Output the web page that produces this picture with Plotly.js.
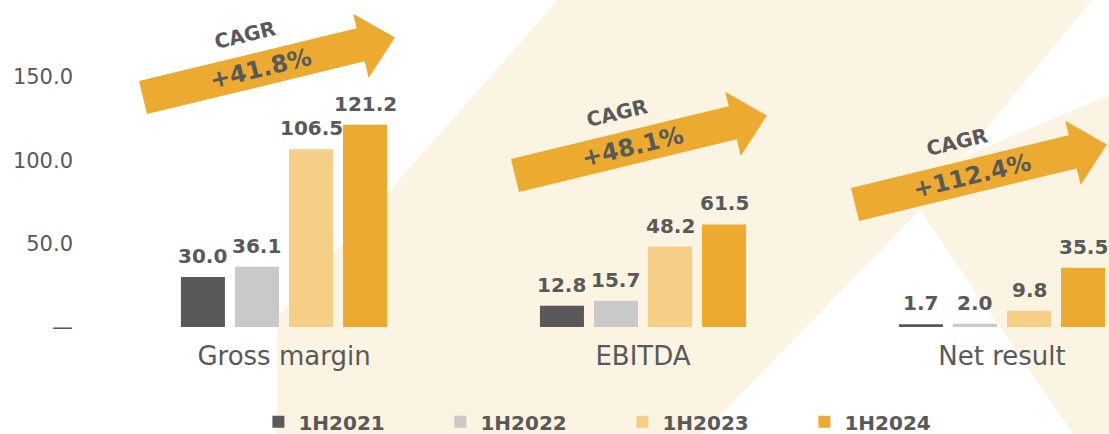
<!DOCTYPE html>
<html>
<head>
<meta charset="utf-8">
<script src="https://cdn.plot.ly/plotly-3.0.1.min.js"></script>
<style>html,body{margin:0;padding:0;background:#fff;}#chart{width:1109px;height:434px;}</style>
</head>
<body>
<div id="chart"></div>
<script>
// ---- data ----
const categories = ['Gross margin', 'EBITDA', 'Net result'];
const seriesNames = ['1H2021', '1H2022', '1H2023', '1H2024'];
const values1H2021 = [30.0, 12.8, 1.7];
const values1H2022 = [36.1, 15.7, 2.0];
const values1H2023 = [106.5, 48.2, 9.8];
const values1H2024 = [121.2, 61.5, 35.5];
const cagrLabels = ['+41.8%', '+48.1%', '+112.4%'];
const yTickVals = [0, 50, 100, 150];
const yTickText = ['—', '50.0', '100.0', '150.0'];

// ---- styles ----
const colors = ['#595959', '#C9C9C9', '#F5CF86', '#ECAB30'];
const textColor = '#595959';
const beige = '#FBF4E3';
const arrowColor = '#ECAB30';
const FONT = '"DejaVu Sans", Verdana, sans-serif';

const W = 1109, H = 434;
const L = 80, T = 0, PW = W - L, PH = 327;
const BARGAP = 0.398, BARGROUPGAP = 0.185;
const catPitch = 359; // px per category on the x axis (PW / range span)
function px(x){ return (x - L) / PW; }
function py(y){ return (T + PH - y) / PH; }
function pathFrom(pts){
  return pts.map((p,i)=>(i?'L':'M')+px(p[0]).toFixed(5)+','+py(p[1]).toFixed(5)).join(' ')+' Z';
}

const allValues = [values1H2021, values1H2022, values1H2023, values1H2024];
const traces = allValues.map((vals, i) => ({
  type: 'bar',
  name: seriesNames[i],
  x: categories,
  y: vals,
  marker: {color: colors[i]},
  hoverinfo: 'skip'
}));

const annotations = [];
// value labels above each bar, tied to the data
const slot = catPitch * (1 - BARGAP) / allValues.length;
allValues.forEach((vals, i) => {
  vals.forEach((v, j) => {
    annotations.push({
      xref: 'x', yref: 'y', x: categories[j], y: v,
      xanchor: 'center', yanchor: 'bottom', showarrow: false,
      xshift: (i - (allValues.length - 1) / 2) * slot, yshift: 7,
      text: '<b>' + v.toFixed(1) + '</b>',
      font: {family: FONT, size: 20, color: textColor}
    });
  });
});

// background beige shape
const bg = [[277,434],[277,318],[558,0],[1092,0],[963,157],[1109,95],[1109,434],[1073,434],[920,210],[702,434]];
const shapes = [{
  type: 'path', xref: 'paper', yref: 'paper', layer: 'below',
  path: pathFrom(bg), fillcolor: beige, line: {width: 0}
}];

// CAGR arrows
const theta = 13.6 * Math.PI / 180, c = Math.cos(theta), s = Math.sin(theta);
const arrowOrigins = [[139,81],[511,159],[851,188]];
const arrowLocal = [[0,0],[224,0],[224,-15],[259,18],[224,51],[224,34],[0,34]];
function toScreen(o, u, v){ return [o[0] + u*c + v*s, o[1] - u*s + v*c]; }
arrowOrigins.forEach((o, i) => {
  shapes.push({
    type: 'path', xref: 'paper', yref: 'paper', layer: 'above',
    path: pathFrom(arrowLocal.map(p => toScreen(o, p[0], p[1]))),
    fillcolor: arrowColor, line: {width: 0}
  });
  annotations.push({
    xref: 'paper', yref: 'paper', x: px(o[0] + 106), y: py(o[1] - 46),
    xanchor: 'center', yanchor: 'middle', showarrow: false, textangle: -13.6,
    text: '<b>CAGR</b>', font: {family: FONT, size: 20, color: textColor}
  });
  annotations.push({
    xref: 'paper', yref: 'paper', x: px(o[0] + 121), y: py(o[1] - 12),
    xanchor: 'center', yanchor: 'middle', showarrow: false, textangle: -13.6,
    text: '<b>' + cagrLabels[i] + '</b>', font: {family: FONT, size: 24, color: textColor}
  });
});

const layout = {
  width: W, height: H,
  margin: {l: L, r: 0, t: T, b: H - T - PH, pad: 0},
  paper_bgcolor: '#ffffff',
  plot_bgcolor: 'rgba(0,0,0,0)',
  font: {family: FONT, color: textColor},
  barmode: 'group',
  bargap: BARGAP,
  bargroupgap: BARGROUPGAP,
  showlegend: true,
  legend: {
    orientation: 'h', xref: 'container', yref: 'container',
    x: 0.233, xanchor: 'left', y: 0.028, yanchor: 'middle',
    entrywidth: 137, entrywidthmode: 'pixels',
    font: {family: FONT, size: 20, color: textColor, weight: 'bold'},
    bgcolor: 'rgba(0,0,0,0)', traceorder: 'normal'
  },
  xaxis: {
    type: 'category', range: [-0.5682, 2.298],
    showgrid: false, zeroline: false, showline: false, ticks: '',
    tickfont: {family: FONT, size: 26, color: textColor},
    ticklabelstandoff: 11, fixedrange: true
  },
  yaxis: {
    range: [0, 196], showgrid: false, zeroline: false, showline: false, ticks: '',
    tickvals: yTickVals, ticktext: yTickText,
    tickfont: {family: FONT, size: 21, color: textColor},
    ticklabelstandoff: 6, fixedrange: true
  },
  shapes: shapes,
  annotations: annotations
};

Plotly.newPlot('chart', traces, layout, {displayModeBar: false, staticPlot: true});
</script>
</body>
</html>
